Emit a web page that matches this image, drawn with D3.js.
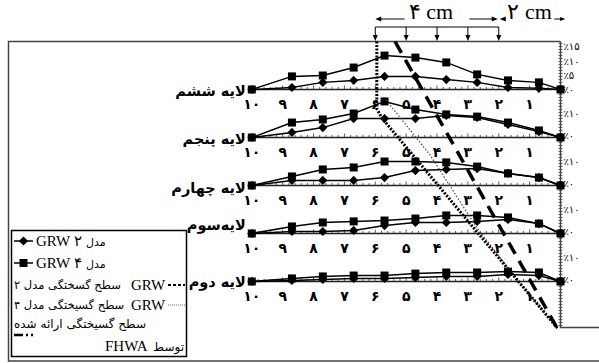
<!DOCTYPE html>
<html>
<head>
<meta charset="utf-8">
<script src="https://cdn.jsdelivr.net/npm/d3@7"></script>
<style>
  body { margin: 0; background: #fff; }
  svg { display: block; }
  .fa { font-family: "DejaVu Sans", sans-serif; }
  .lat { font-family: "Liberation Serif", "Times New Roman", serif; }
</style>
</head>
<body>
<div id="chart"></div>
<script>
// distance (cm) of the measuring points, 10 on the left
const xPos = [10, 8.7, 7.7, 6.7, 5.7, 4.7, 3.7, 2.7, 1.7, 0.7, 0];
const xTicks = [10, 9, 8, 7, 6, 5, 4, 3, 2, 1];
const xTickLabels = ["۱۰", "۹", "۸", "۷", "۶", "۵", "۴", "۳", "۲", "۱"];

const layerNames = ["لایه ششم", "لایه پنجم", "لایه چهارم", "لایه‌سوم", "لایه دوم"];

// strain in percent, one row per layer (top to bottom)
const grw4 = [
  [0, 4.6, 4.9, 7.7, 11.9, 11.2, 9.5, 5.3, 3.2, 2.5, 0],
  [0, 6.8, 8.2, 10.9, 16.4, 12.7, 10.5, 9.5, 6.8, 3.2, 0],
  [0, 4.1, 7.3, 8.2, 10.9, 10.9, 10.5, 8.6, 5.5, 3.6, 0],
  [0, 3.2, 5, 5.5, 5.9, 6.8, 8.2, 8.2, 7.3, 4.5, 0],
  [0, 1.4, 2.3, 2.7, 2.7, 3.6, 4.1, 4.1, 4.5, 4.1, 0]
];
const grw2 = [
  [0, 0.7, 2.5, 3.2, 4.6, 4.6, 3.5, 2.5, 0.7, 0.4, 0],
  [0, 2.3, 4.5, 8.6, 8.6, 8.6, 10, 9.1, 5.9, 2.7, 0],
  [0, 2.3, 2.3, 2.3, 3.6, 6.8, 7.3, 7.7, 5.5, 3.6, 0],
  [0, 0.9, 0.9, 1.4, 3.6, 5, 5, 5.5, 6.4, 4.5, 0],
  [0, 0.5, 0.9, 1.4, 1.4, 1.8, 2.3, 2.3, 3.2, 2.7, 0]
];

const yMax = [15, 10, 10, 10, 10];
const yTicks = [[0, 5, 10, 15], [0, 10], [0, 10], [0, 10], [0, 10]];
const yTickLabels = [["٪۰", "٪۵", "٪۱۰", "٪۱۵"], ["٪۰", "٪۱۰"], ["٪۰", "٪۱۰"], ["٪۰", "٪۱۰"], ["٪۰", "٪۱۰"]];

// failure surfaces: [cm, depth in layers from the top]
const surfGrw2 = [[5.95, 0], [5.95, 1.4], [5.78, 1.6], [0.1, 5.97]];
const surfGrw4 = [[5.65, 1.22], [4.23, 2.36], [2.7, 3.89], [1.31, 5.03], [0.11, 5.97]];
const surfFhwa = [[5.36, 0], [0.11, 5.97]];

const arrowsAt = [6, 5, 4, 3, 2];

const W = 599, H = 363;
const svg = d3.select("#chart").append("svg").attr("width", W).attr("height", H);

const x = d3.scaleLinear().domain([10, 0]).range([251.8, 560.5]);
const depth = d3.scaleLinear().domain([0, 6]).range([41.5, 329.5]);
const x0 = x(0);

// outer frame
const frame = svg.append("g").attr("fill", "none").attr("stroke", "#444").attr("stroke-width", 1.5);
frame.append("path").attr("d", `M${x0},${depth(0)} H8.5 V361 H${W}`);
frame.append("path").attr("d", `M${x0},${depth(0)} V${depth(5.96)} H${W}`);

// right axis minor ticks
svg.append("g").attr("stroke", "#444").attr("stroke-width", 0.8)
  .selectAll("line").data(d3.range(depth(0) + 2, depth(5.96), 3)).join("line")
  .attr("x1", x0 - 2).attr("x2", x0 + 2).attr("y1", d => d).attr("y2", d => d);

const diamond = (s) => `M0,${-s}L${s},0L0,${s}L${-s},0Z`;

layerNames.forEach((name, i) => {
  const base = depth(i + 1);
  const pxPerUnit = i === 0 ? 2.85 : 2.2;
  const y = d3.scaleLinear().domain([0, yMax[i]]).range([base, base - yMax[i] * pxPerUnit]);
  const g = svg.append("g");

  // baseline with ticks
  g.append("line").attr("x1", x(10)).attr("x2", x0).attr("y1", base).attr("y2", base)
    .attr("stroke", "#222").attr("stroke-width", 1.3);
  g.append("g").attr("stroke", "#333").attr("stroke-width", 0.8)
    .selectAll("line").data(d3.range(0, 10.01, 0.2)).join("line")
    .attr("x1", d => x(d)).attr("x2", d => x(d))
    .attr("y1", base).attr("y2", d => Math.abs(d - Math.round(d)) < 1e-6 ? base - 4 : base - 2.5);

  g.append("g").attr("class", "fa").attr("font-size", 14).attr("font-weight", "bold")
    .attr("text-anchor", "middle")
    .selectAll("text").data(xTicks).join("text")
    .attr("x", d => x(d)).attr("y", base + 19)
    .text((d, j) => xTickLabels[j]);

  g.append("g").attr("class", "fa").attr("font-size", 10)
    .selectAll("text").data(yTicks[i]).join("text")
    .attr("x", x0 + 3).attr("y", d => y(d) + (i === 0 ? 3.5 : 1.5))
    .text((d, j) => yTickLabels[i][j]);

  g.append("text").attr("class", "fa").attr("font-size", 14.5).attr("font-weight", "bold")
    .attr("text-anchor", "end").attr("x", x(10) - 6)
    .attr("y", base + [6, 6, 7, -4, 5][i])
    .text(name);

  const line = d3.line().x((d, j) => x(xPos[j])).y(d => y(d));
  [grw2[i], grw4[i]].forEach(s => {
    g.append("path").datum(s).attr("d", line).attr("fill", "none")
      .attr("stroke", "#000").attr("stroke-width", 1.5);
  });
  g.append("g").selectAll("path").data(grw2[i]).join("path")
    .attr("transform", (d, j) => `translate(${x(xPos[j])},${y(d)})`)
    .attr("d", diamond(4.6)).attr("fill", "#000");
  g.append("g").selectAll("rect").data(grw4[i]).join("rect")
    .attr("x", (d, j) => x(xPos[j]) - 4).attr("y", d => y(d) - 4)
    .attr("width", 8).attr("height", 8).attr("fill", "#000");
});

// failure surfaces
const sLine = d3.line().x(d => x(d[0])).y(d => depth(d[1]));
svg.append("path").datum(surfGrw4).attr("d", sLine).attr("fill", "none")
  .attr("stroke", "#444").attr("stroke-width", 1.2).attr("stroke-dasharray", "1.5,1.8");
svg.append("path").datum(surfGrw2).attr("d", sLine).attr("fill", "none")
  .attr("stroke", "#000").attr("stroke-width", 3).attr("stroke-dasharray", "2,1.5");
svg.append("path").datum(surfFhwa).attr("d", sLine).attr("fill", "none")
  .attr("stroke", "#000").attr("stroke-width", 3.5).attr("stroke-dasharray", "13,8");

// top dimension marks
const dim = svg.append("g").attr("stroke", "#000").attr("stroke-width", 1).attr("fill", "none");
dim.append("line").attr("x1", x(6)).attr("x2", x(2)).attr("y1", 27).attr("y2", 27);
const heads = svg.append("g").attr("fill", "#000");
arrowsAt.forEach(v => {
  dim.append("line").attr("x1", x(v)).attr("x2", x(v)).attr("y1", 27).attr("y2", 37);
  heads.append("path").attr("d", `M${x(v) - 2.5},35 L${x(v) + 2.5},35 L${x(v)},${depth(0) - 0.5}Z`);
});
dim.append("line").attr("x1", x(6) + 2).attr("x2", x(5.05)).attr("y1", 19).attr("y2", 19);
heads.append("path").attr("d", `M${x(6)},19 l6,-2.5 v5Z`);
dim.append("line").attr("x1", x(2.95)).attr("x2", x(2) - 3).attr("y1", 19).attr("y2", 19);
heads.append("path").attr("d", `M${x(2) - 1},19 l-6,-2.5 v5Z`);
heads.append("path").attr("d", `M${x(2) + 1},19 l6,-2.5 v5Z`);
dim.append("line").attr("x1", x(0.2)).attr("x2", x(-0.1)).attr("y1", 19).attr("y2", 19);
heads.append("path").attr("d", `M${x(-0.15)},19 l-5,-2 v4Z`);

svg.append("text").attr("class", "lat").attr("font-size", 22).attr("text-anchor", "middle")
  .attr("x", x(4.2)).attr("y", 19).text("۴ cm");
svg.append("text").attr("class", "lat").attr("font-size", 22).attr("text-anchor", "middle")
  .attr("x", x(1)).attr("y", 19).text("۲ cm");

// legend
const lg = svg.append("g");
lg.append("rect").attr("x", 11.5).attr("y", 230.5).attr("width", 175).attr("height", 126)
  .attr("fill", "#fff").attr("stroke", "#000").attr("stroke-width", 1.5);

const rowY = [241, 263, 285, 305];
lg.append("line").attr("x1", 14).attr("x2", 33).attr("y1", rowY[0]).attr("y2", rowY[0]).attr("stroke", "#000").attr("stroke-width", 1.5);
lg.append("path").attr("transform", `translate(23.5,${rowY[0]})`).attr("d", diamond(4.6)).attr("fill", "#000");
lg.append("line").attr("x1", 14).attr("x2", 33).attr("y1", rowY[1]).attr("y2", rowY[1]).attr("stroke", "#000").attr("stroke-width", 1.5);
lg.append("rect").attr("x", 19.5).attr("y", rowY[1] - 4).attr("width", 8).attr("height", 8).attr("fill", "#000");

[["GRW ۲", rowY[0]], ["GRW ۴", rowY[1]]].forEach(([t, yy]) => {
  lg.append("text").attr("class", "lat").attr("font-size", 15).attr("x", 36).attr("y", yy + 5).text(t);
  lg.append("text").attr("class", "fa").attr("font-size", 11).attr("x", 86).attr("y", yy + 5).text("مدل");
});

[["سطح گسختگی مدل ۲", rowY[2]], ["سطح گسیختگی مدل ۴", rowY[3]]].forEach(([t, yy]) => {
  lg.append("text").attr("class", "fa").attr("font-size", 11.5).attr("x", 14).attr("y", yy + 4).text(t);
  lg.append("text").attr("class", "lat").attr("font-size", 15).attr("x", 131).attr("y", yy + 5).text("GRW");
});
lg.append("line").attr("x1", 168).attr("x2", 185).attr("y1", rowY[2]).attr("y2", rowY[2])
  .attr("stroke", "#000").attr("stroke-width", 2.2).attr("stroke-dasharray", "3,2");
lg.append("line").attr("x1", 168).attr("x2", 185).attr("y1", rowY[3]).attr("y2", rowY[3])
  .attr("stroke", "#666").attr("stroke-width", 1.2).attr("stroke-dasharray", "1,1");

lg.append("text").attr("class", "fa").attr("font-size", 12).attr("x", 14).attr("y", 328).text("سطح گسیختگی ارائه شده");
lg.append("path").attr("d", "M14,335H23 M26,335H28 M31,335H33").attr("stroke", "#000").attr("stroke-width", 2.5);
lg.append("text").attr("class", "fa").attr("font-size", 12).attr("text-anchor", "end").attr("x", 184).attr("y", 351).text("توسط");
lg.append("text").attr("class", "lat").attr("font-size", 15).attr("x", 105).attr("y", 351).text("FHWA");
</script>
</body>
</html>
